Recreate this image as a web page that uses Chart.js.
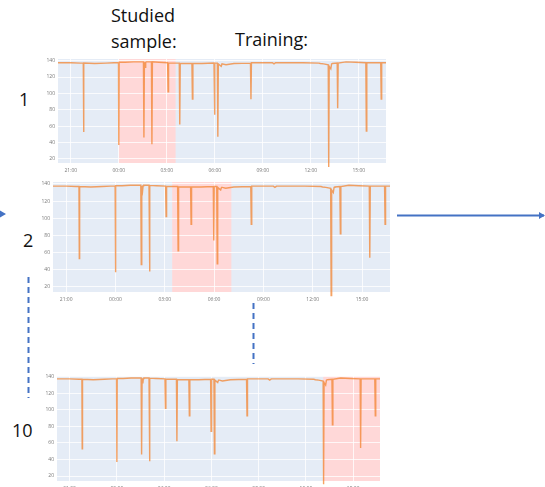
<!DOCTYPE html>
<html>
<head>
<meta charset="utf-8">
<script src="https://cdn.jsdelivr.net/npm/chart.js@4"></script>
<style>
  html, body { margin: 0; padding: 0; background: #fff; }
  body { width: 545px; height: 487px; position: relative; overflow: hidden; font-family: "Open Sans", "Liberation Sans", sans-serif; }
  .box { position: absolute; }
  .lbl { position: absolute; font-size: 18px; color: #111; white-space: nowrap; line-height: 1; }
  svg { position: absolute; left: 0; top: 0; }
</style>
</head>
<body>

<script>
// ---- Data (hours relative to 00:00) ----
const times = [
  -3.8, -3.0, -2.4, -2.22, -2.2, -2.18, -1.5, -0.8, -0.3, -0.02, 0.0, 0.02, 0.4, 0.9, 1.4,
  1.54, 1.57, 1.60, 1.65, 1.68, 1.72, 2.04, 2.07, 2.10, 2.5, 3.05, 3.08, 3.11, 3.4,
  3.78, 3.81, 3.84, 4.2, 4.57, 4.60, 4.63, 5.2, 5.95, 5.98, 6.01, 6.16, 6.19, 6.22,
  6.4, 6.45, 6.5, 6.7, 7.2, 8.23, 8.26, 8.29, 9.0, 9.6, 9.7, 9.8, 10.5, 11.5, 12.5,
  12.6, 12.8, 13.09, 13.12, 13.15, 13.25, 13.3, 13.35, 13.65, 13.68, 13.71, 14.2, 14.8,
  15.44, 15.47, 15.50, 16.0, 16.37, 16.4, 16.43, 16.7
];
const values = [
  137.5, 137.5, 137, 137, 53, 137, 136.5, 137, 137.5, 137.5, 37, 138, 138, 138.5, 138.5,
  138.5, 46, 138, 132, 138, 138.5, 138.5, 38, 138.5, 138, 137.5, 102, 137, 137,
  137, 62, 136.5, 136.5, 136.5, 93, 136.5, 136.5, 137, 74, 137, 137, 47, 136,
  133, 136, 136, 135, 136.5, 137, 93, 137.5, 137.5, 137.5, 136, 137.5, 137.5, 137.5, 137,
  136.5, 136, 135, 10, 133, 130, 136, 136.5, 137, 82, 137, 138.5, 138,
  137.5, 54, 137.5, 137.5, 137.5, 93, 137.5, 137.5
];
const xTickValues = [-3, 0, 3, 6, 9, 12, 15];
const xTickLabels = ['21:00', '00:00', '03:00', '06:00', '09:00', '12:00', '15:00'];
const yTickValues = [20, 40, 60, 80, 100, 120, 140];
// highlighted window per panel (start, end in hours)
const windowStarts = [0.0, 3.45, 13.1];
const windowEnds   = [3.55, 7.05, 16.7];
const panelNames = ['1', '2', '10'];
</script>

<div class="lbl" style="left:111px; top:6px;">Studied</div>
<div class="lbl" style="left:111px; top:32px;">sample:</div>
<div class="lbl" style="left:235px; top:30px;">Training:</div>
<div class="lbl" style="left:19px; top:90px;">1</div>
<div class="lbl" style="left:23px; top:231px;">2</div>
<div class="lbl" style="left:12px; top:421px;">10</div>

<svg width="545" height="487">
  <defs>
    <marker id="ah" markerWidth="6" markerHeight="7" refX="5" refY="3.5" orient="auto" markerUnits="userSpaceOnUse">
      <path d="M0,0 L6,3.5 L0,7 z" fill="#4472C4"/>
    </marker>
  </defs>
  <path d="M0,210.5 L6,214 L0,217.5 z" fill="#4472C4"/>
  <line x1="397" y1="215.5" x2="544" y2="215.5" stroke="#4472C4" stroke-width="2.2" marker-end="url(#ah)"/>
  <line x1="28.5" y1="277" x2="28.5" y2="398" stroke="#4472C4" stroke-width="2" stroke-dasharray="6,4"/>
  <line x1="253.5" y1="303" x2="253.5" y2="364" stroke="#4472C4" stroke-width="2" stroke-dasharray="6,4"/>
</svg>

<script>
const panels = [
  { L: 58, R: 386, T: 57, B: 163, ymin: 15, ymax: 142 },
  { L: 53, R: 390, T: 180, B: 292, ymin: 14, ymax: 142.3 },
  { L: 57, R: 380, T: 374, B: 481, ymin: 14, ymax: 141 }
];
const YW = 16, XH = 14, PT = 4, PR = 4;

const bgPlugin = {
  id: 'bg',
  beforeDraw(chart, args, opts) {
    const { ctx, chartArea: a, scales } = chart;
    ctx.save();
    ctx.fillStyle = '#E5ECF6';
    ctx.fillRect(a.left, a.top, a.right - a.left, a.bottom - a.top);
    const x0 = Math.max(a.left, scales.x.getPixelForValue(opts.start));
    const x1 = Math.min(a.right, scales.x.getPixelForValue(opts.end));
    ctx.fillStyle = '#FFD8D8';
    ctx.fillRect(x0, a.top, x1 - x0, a.bottom - a.top);
    ctx.restore();
  }
};

panels.forEach((p, i) => {
  const div = document.createElement('div');
  div.className = 'box';
  const w = (p.R - p.L) + YW + PR;
  const h = (p.B - p.T) + PT + XH;
  div.style.left = (p.L - YW) + 'px';
  div.style.top = (p.T - PT) + 'px';
  div.style.width = w + 'px';
  div.style.height = h + 'px';
  const cv = document.createElement('canvas');
  cv.width = w; cv.height = h;
  div.appendChild(cv);
  document.body.appendChild(div);

  new Chart(cv, {
    type: 'line',
    data: {
      datasets: [{
        label: 'Panel ' + panelNames[i],
        data: times.map((t, k) => ({ x: t, y: values[k] })),
        borderColor: 'rgba(242,128,40,0.72)',
        borderWidth: 1.4,
        pointRadius: 0,
        tension: 0,
        fill: false,
        clip: false
      }]
    },
    options: {
      responsive: false,
      animation: false,
      events: [],
      layout: { padding: { top: PT, right: PR, left: 0, bottom: 0 } },
      plugins: {
        legend: { display: false },
        tooltip: { enabled: false },
        bg: { start: windowStarts[i], end: windowEnds[i] }
      },
      scales: {
        x: {
          type: 'linear',
          min: -3.8, max: 16.7,
          afterBuildTicks: s => { s.ticks = xTickValues.map(v => ({ value: v })); },
          afterFit: s => { s.height = XH; },
          grid: { color: 'rgba(255,255,255,0.8)', lineWidth: 1, drawTicks: false },
          border: { display: false },
          ticks: {
            autoSkip: false, maxRotation: 0, padding: 5,
            font: { size: 5, family: 'Open Sans' }, color: '#777',
            callback: v => { const k = xTickValues.indexOf(v); return k >= 0 ? xTickLabels[k] : ''; }
          }
        },
        y: {
          min: p.ymin, max: p.ymax,
          afterBuildTicks: s => { s.ticks = yTickValues.map(v => ({ value: v })); },
          afterFit: s => { s.width = YW; },
          grid: { color: 'rgba(255,255,255,0.8)', lineWidth: 1, drawTicks: false },
          border: { display: false },
          ticks: { padding: 3, font: { size: 5, family: 'Open Sans' }, color: '#777' }
        }
      }
    },
    plugins: [bgPlugin]
  });
});
</script>
</body>
</html>
